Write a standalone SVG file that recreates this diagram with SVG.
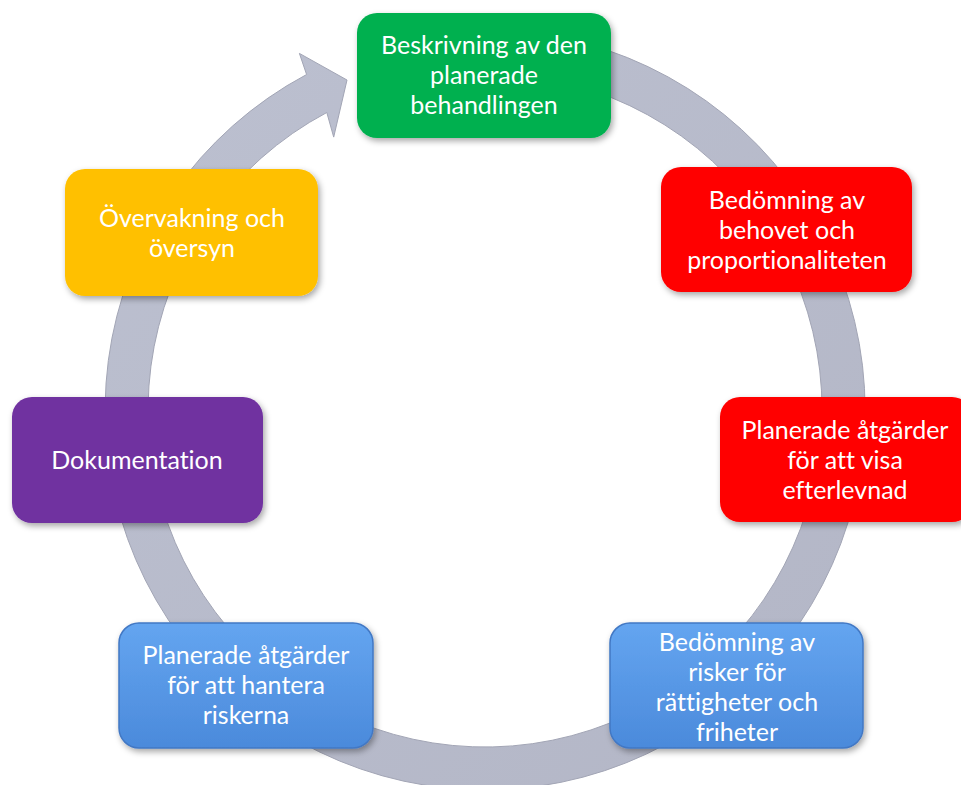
<svg xmlns="http://www.w3.org/2000/svg" width="961" height="785" viewBox="0 0 961 785">
<defs>
<filter id="sh" x="-10%" y="-10%" width="125%" height="135%">
<feDropShadow dx="2" dy="3" stdDeviation="3" flood-color="#000" flood-opacity="0.35"/>
</filter>
<linearGradient id="blue" x1="0" y1="0" x2="0" y2="1">
<stop offset="0" stop-color="#64A5F0"/>
<stop offset="1" stop-color="#4B8ADB"/>
</linearGradient>
<linearGradient id="ringg" x1="0" y1="0" x2="1" y2="1">
<stop offset="0" stop-color="#BCC0D0"/>
<stop offset="1" stop-color="#B3B6C6"/>
</linearGradient>
</defs>
<style>
.box{filter:url(#sh);}
.t{font-family:Lato,"Open Sans","Liberation Sans",sans-serif;font-size:25px;fill:#FFFFFF;text-anchor:middle;font-variant-ligatures:none;}
</style>
<g id="connectors">
<path d="M518.1,31.4 A380,380 0 1 1 306.6,74.5 L299.4,53.4 L347,80 L333.7,137.1 L326.8,112.5 A337,337 0 1 0 514.4,74.3 Z" fill="url(#ringg)" stroke="#A2A5B5" stroke-width="1"/>
</g>
<g id="node-beskrivning">
<rect class="box" x="357" y="13" width="254" height="125" rx="20" fill="#00B050"/>
<text class="t" x="484" y="54">Beskrivning av den</text>
<text class="t" x="484" y="84">planerade</text>
<text class="t" x="484" y="114">behandlingen</text>
</g>
<g id="node-behovet">
<rect class="box" x="661" y="167" width="251" height="125" rx="20" fill="#FF0000"/>
<text class="t" x="787" y="209">Bedömning av</text>
<text class="t" x="787" y="239">behovet och</text>
<text class="t" x="787" y="269">proportionaliteten</text>
</g>
<g id="node-efterlevnad">
<rect class="box" x="720" y="397" width="252" height="125" rx="20" fill="#FF0000"/>
<text class="t" x="845" y="439">Planerade åtgärder</text>
<text class="t" x="845" y="469">för att visa</text>
<text class="t" x="845" y="499">efterlevnad</text>
</g>
<g id="node-risker">
<rect class="box" x="610" y="623" width="253" height="125" rx="20" fill="url(#blue)" stroke="#4278C4" stroke-width="1.5"/>
<text class="t" x="737" y="651">Bedömning av</text>
<text class="t" x="737" y="681">risker för</text>
<text class="t" x="737" y="711">rättigheter och</text>
<text class="t" x="737" y="741">friheter</text>
</g>
<g id="node-hantera">
<rect class="box" x="119" y="623" width="254" height="125" rx="20" fill="url(#blue)" stroke="#4278C4" stroke-width="1.5"/>
<text class="t" x="246" y="664">Planerade åtgärder</text>
<text class="t" x="246" y="694">för att hantera</text>
<text class="t" x="246" y="724">riskerna</text>
</g>
<g id="node-dokumentation">
<rect class="box" x="12" y="397" width="251" height="126" rx="20" fill="#7030A0"/>
<text class="t" x="137" y="469">Dokumentation</text>
</g>
<g id="node-overvakning">
<rect class="box" x="65" y="169" width="253" height="127" rx="20" fill="#FFC000"/>
<text class="t" x="192" y="227">Övervakning och</text>
<text class="t" x="192" y="257">översyn</text>
</g>
</svg>
